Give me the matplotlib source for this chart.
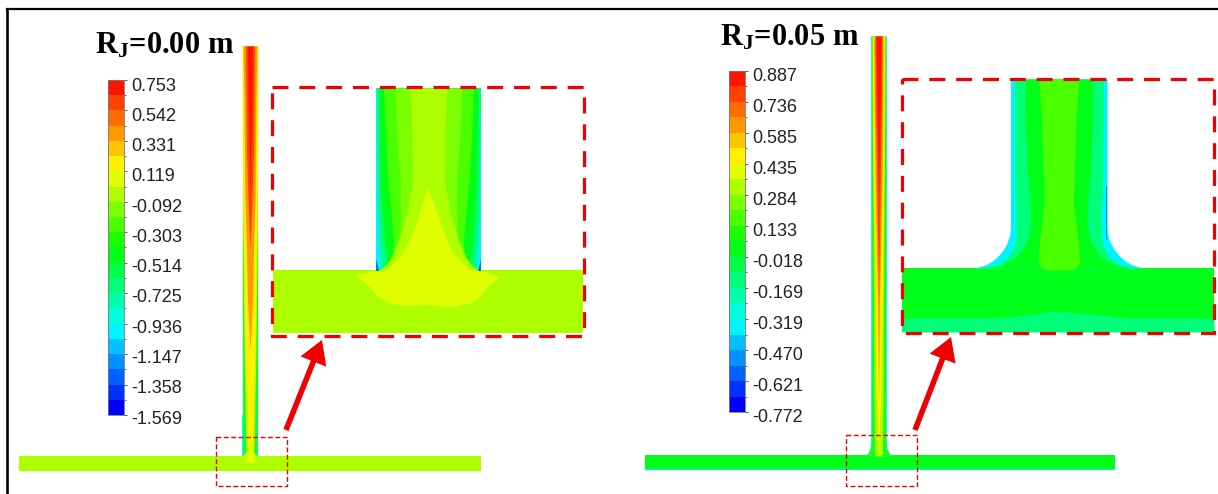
import numpy as np
import matplotlib
matplotlib.use('Agg')
import matplotlib.pyplot as plt
from matplotlib.cm import ScalarMappable
from matplotlib.colors import LinearSegmentedColormap, BoundaryNorm
from matplotlib.patches import Rectangle
from matplotlib.transforms import ScaledTranslation

plt.rcParams['font.family'] = ['Liberation Sans', 'DejaVu Sans']
plt.rcParams['mathtext.fontset'] = 'custom'
plt.rcParams['mathtext.bf'] = 'Liberation Serif:bold'
plt.rcParams['mathtext.rm'] = 'Liberation Serif:bold'

# colorbar labels
labels_l = ['0.753', '0.542', '0.331', '0.119', '-0.092', '-0.303', '-0.514', '-0.725', '-0.936', '-1.147', '-1.358', '-1.569']
labels_r = ['0.887', '0.736', '0.585', '0.435', '0.284', '0.133', '-0.018', '-0.169', '-0.319', '-0.470', '-0.621', '-0.772']

# left case, zoomed T : half widths of the contour bands against height
l_zoom_y = [88, 130, 180, 213, 240, 252, 260, 266, 271]
l_zoom_vals = [-0.99, -0.67, -0.46, -0.25, -0.145, -0.04]
l_zoom_half = [[52.3, 52.3, 52.3, 52.3, 52.3, 52.3, 52.3, 52.3, 52.3],
               [52.0, 51.5, 51.0, 50.5, 49.5, 48.5, 47.5, 48.0, 51.5],
               [50.0, 49.3, 48.3, 46.7, 44.3, 42.5, 41.7, 43.5, 50.0],
               [45.0, 43.3, 40.7, 37.3, 35.0, 35.5, 38.0, 42.5, 50.0],
               [33.3, 32.0, 28.3, 28.3, 28.3, 29.5, 33.0, 38.5, 50.0],
               [18.3, 16.7, 16.0, 21.7, 30.0, 35.0, 39.0, 44.0, 51.5]]
l_spike_x = [428, 422, 417, 410, 403, 395, 385, 370, 355, 362, 370, 376, 383, 392, 403, 427, 450, 473, 481, 487, 494, 500, 485, 470, 462, 453, 446, 440, 434]
l_spike_y = [188, 205, 223, 240, 253, 263, 271, 272, 275, 281, 287, 294, 300, 304, 306, 305, 307, 303, 296, 287, 282, 277, 272, 270, 262, 253, 237, 220, 203]

# left case, full T
l_full_y = [46, 100, 150, 200, 250, 300, 350, 400, 440, 456]
l_full_vals = [-0.67, -0.35, -0.04, 0.17, 0.38, 0.6, 0.7]
l_full_half = [[7.5, 7.5, 7.5, 7.5, 7.7, 7.7, 7.7, 7.7, 7.4, 7.2],
               [7.5, 7.5, 7.5, 7.5, 7.5, 7.3, 7.0, 6.5, 6.0, 6.0],
               [7.6, 7.6, 7.6, 7.5, 7.0, 6.5, 6.0, 5.0, 4.5, 4.0],
               [7.8, 7.8, 7.7, 7.0, 6.5, 6.0, 5.0, 3.5, 2.5, 1.0],
               [7.0, 6.0, 5.5, 5.0, 3.5, 2.5, 0.0, 0.0, 0.0, 0.0],
               [4.5, 4.0, 3.5, 2.0, 0.0, 0.0, 0.0, 0.0, 0.0, 0.0],
               [2.5, 2.0, 1.0, 0.0, 0.0, 0.0, 0.0, 0.0, 0.0, 0.0]]

# right case, zoomed T
r_zoom_y = [79, 120, 170, 203, 227, 235, 243, 250, 256, 261, 265, 268]
r_zoom_vals = [-0.36, -0.13, 0.02]
r_zoom_half = [[48.3, 48.3, 48.3, 48.3, 48.3, 49.1, 51.7, 55.6, 60.6, 66.3, 73.6, 84.0],
               [44.3, 44.3, 44.0, 43.3, 42.7, 42.7, 43.5, 46.5, 50.5, 55.5, 62.0, 76.0],
               [33.7, 33.7, 31.7, 28.7, 28.3, 30.0, 33.0, 37.0, 42.0, 48.0, 57.0, 72.0]]
r_core_y = [79, 120, 170, 203, 237, 260, 266, 270]
r_core_half = [20.0, 17.3, 15.7, 14.7, 19.0, 20.7, 19.0, 13.0]
r_low_x = [902, 995, 1028, 1059, 1088, 1128, 1214]
r_low_top = [318, 318, 315, 311, 314, 318, 318]

# right case, full T
r_full_y = [36, 100, 200, 300, 400, 440, 448, 453, 456]
r_full_vals = [-0.36, -0.13, 0.09, 0.32, 0.47, 0.62, 0.77, 0.85]
r_full_half = [[7.8, 7.8, 7.8, 7.8, 7.8, 7.8, 8.5, 10.5, 13.5],
               [7.4, 7.4, 7.3, 7.2, 7.2, 7.2, 8.0, 10.0, 13.0],
               [7.0, 7.0, 7.0, 6.5, 6.5, 6.5, 7.5, 9.5, 12.5],
               [6.5, 6.3, 5.5, 5.0, 4.5, 4.0, 4.0, 4.0, 3.0],
               [6.0, 5.8, 5.0, 3.5, 2.0, 0.5, 0.0, 0.0, 0.0],
               [4.8, 4.5, 3.2, 1.0, 0.0, 0.0, 0.0, 0.0, 0.0],
               [3.5, 3.0, 1.5, 0.0, 0.0, 0.0, 0.0, 0.0, 0.0],
               [2.5, 1.5, 0.0, 0.0, 0.0, 0.0, 0.0, 0.0, 0.0]]

W, H = 1218, 494
n_bands = 22
cmap = LinearSegmentedColormap.from_list('fluent', [(0, '#0000ff'), (0.25, '#00ffff'), (0.5, '#00ff00'), (0.745, '#ffff00'), (1, '#ff1400')], N=n_bands)
levels_l = np.linspace(float(labels_l[-1]), float(labels_l[0]), n_bands + 1)
levels_r = np.linspace(float(labels_r[-1]), float(labels_r[0]), n_bands + 1)
norm_l = BoundaryNorm(levels_l, n_bands)
norm_r = BoundaryNorm(levels_r, n_bands)


def col_l(v):
    return cmap(norm_l(v))


def col_r(v):
    return cmap(norm_r(v))


def stem(ax, xc, y, halves, vals, col):
    for h, v in zip(halves, vals):
        h = np.array(h)
        ax.fill_betweenx(y, xc - h, xc + h, color=col(v), lw=0)


def colorbar(fig, left, top, bottom, norm, levels, labels, off):
    cax = fig.add_axes([left / W, 1 - bottom / H, 16 / W, (bottom - top) / H])
    cb = fig.colorbar(ScalarMappable(norm=norm, cmap=cmap), cax=cax, spacing='proportional', drawedges=False)
    cb.outline.set_edgecolor('#777777')
    cb.outline.set_linewidth(0.6)
    cax.set_yticks(levels[::2][::-1], labels)
    cax.set_yticks(levels[1::2], minor=True)
    cax.tick_params(axis='y', which='major', length=2.5, width=0.6, color='#444444', labelsize=13, labelcolor='#222222', pad=3)
    cax.tick_params(axis='y', which='minor', length=1.2, width=0.6, color='#444444')
    for lab, dy in zip(cax.get_yticklabels(), off):
        lab.set_transform(lab.get_transform() + ScaledTranslation(0, -dy / 100, fig.dpi_scale_trans))


def red_box(ax, x0, y0, x1, y1, lw, dash):
    ax.add_patch(Rectangle((x0, y0), x1 - x0, y1 - y0, fill=False, ec='#f00000', lw=lw, ls=(0, dash), zorder=6))


fig = plt.figure(figsize=(W / 100, H / 100), dpi=100)
ax = fig.add_axes([0, 0, 1, 1])
ax.set_xlim(0, W)
ax.set_ylim(H, 0)
ax.axis('off')

# frame, only top and left show
ax.plot([6.5, W], [9.5, 9.5], color='black', lw=1.6)
ax.plot([6.5, 6.5], [9.5, H], color='black', lw=1.9)

# left full T
ax.fill_between([19, 481], 456, 471, color=col_l(-0.04), lw=0)
stem(ax, 250, [415, 456], [[7.7, 7.7]], [-0.88], col_l)
stem(ax, 250, l_full_y, l_full_half, l_full_vals, col_l)
ax.fill([243, 246, 250, 254, 257, 254, 246], [456, 453, 447, 453, 456, 463, 463], color=col_l(0.07), lw=0)

# left zoomed T
ax.fill_between([273, 583], 270, 333, color=col_l(-0.04), lw=0)
stem(ax, 428.5, l_zoom_y, l_zoom_half, l_zoom_vals, col_l)
ax.fill(l_spike_x, l_spike_y, color=col_l(0.07), lw=0)
ax.fill([376.2, 378.8, 376.2], [259, 271, 271], color=col_l(-1.3), lw=0)
ax.fill([480.8, 478.2, 480.8], [259, 271, 271], color=col_l(-1.3), lw=0)

# right full T
ax.fill_between([645, 1115], 455, 470, color=col_r(0.02), lw=0)
ax.fill_between([645, 1115], 467.5, 470, color=col_r(-0.13), lw=0)
stem(ax, 878.5, r_full_y, r_full_half, r_full_vals, col_r)

# right zoomed T
ax.fill_between([902, 1214], 268, 332, color=col_r(0.02), lw=0)
ax.fill_between(r_low_x, r_low_top, 332, color=col_r(-0.13), lw=0)
stem(ax, 1058.8, r_zoom_y, r_zoom_half, r_zoom_vals, col_r)
stem(ax, 1058.8, r_core_y, [r_core_half], [0.17], col_r)
ax.fill_betweenx([186, 245], 1058.8 - 48.3, 1058.8 - 47.6, color=col_r(-0.5), lw=0)
ax.fill_betweenx([186, 240], 1058.8 + 47.6, 1058.8 + 48.3, color=col_r(-0.5), lw=0)

# dashed boxes and arrows
red_box(ax, 272, 87.5, 583.5, 336, 2.3, (5.0, 3.4))
red_box(ax, 902, 79.5, 1214, 333, 2.3, (5.0, 3.4))
red_box(ax, 215.5, 436.5, 287, 486, 1.0, (3.5, 1.8))
red_box(ax, 845.5, 434.5, 917, 486, 1.0, (3.5, 1.8))
for start, end in [((286, 430), (322, 340)), ((915, 430), (951, 337))]:
    ax.annotate('', xy=end, xytext=start, zorder=7,
                arrowprops=dict(arrowstyle='-|>,head_length=0.6,head_width=0.36', color='#f00000', lw=4.0,
                                shrinkA=0, shrinkB=0, mutation_scale=18, joinstyle='miter', capstyle='butt'))

# titles
ax.text(95, 54, r'$\mathbf{R_{J}}$=0.00 m', family='Liberation Serif', weight='bold', fontsize=22, va='baseline')
ax.text(720, 46, r'$\mathbf{R_{J}}$=0.05 m', family='Liberation Serif', weight='bold', fontsize=22, va='baseline')

colorbar(fig, 108, 80, 415, norm_l, levels_l, labels_l, np.linspace(4, 2, 12))
colorbar(fig, 729, 71, 412, norm_r, levels_r, labels_r, np.linspace(3.5, 3, 12))

fig.savefig('out.png', dpi=100)
